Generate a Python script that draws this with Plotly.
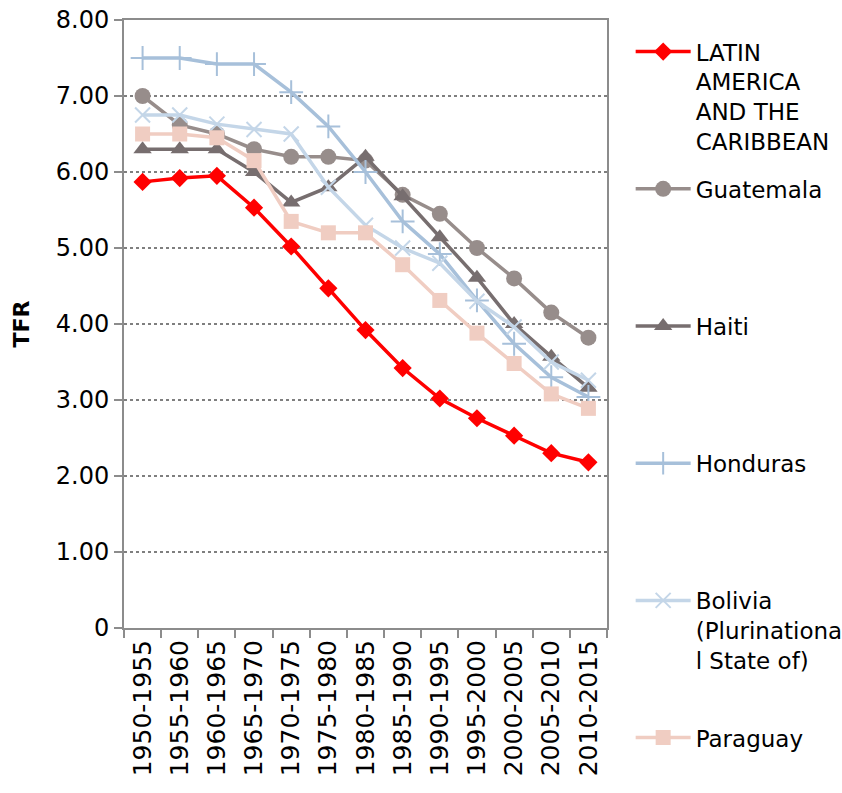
import plotly.graph_objects as go

# Five-year periods on the category axis
periods = ["1950-1955", "1955-1960", "1960-1965", "1965-1970", "1970-1975",
           "1975-1980", "1980-1985", "1985-1990", "1990-1995", "1995-2000",
           "2000-2005", "2005-2010", "2010-2015"]

# Total fertility rate by period
lac = [5.87, 5.92, 5.95, 5.53, 5.02, 4.47, 3.92, 3.42, 3.02, 2.76, 2.53, 2.30, 2.18]
guatemala = [7.00, 6.62, 6.50, 6.30, 6.20, 6.20, 6.15, 5.70, 5.45, 5.00, 4.60, 4.15, 3.82]
haiti = [6.30, 6.30, 6.30, 6.00, 5.60, 5.80, 6.20, 5.68, 5.14, 4.61, 4.00, 3.57, 3.16]
honduras = [7.50, 7.50, 7.42, 7.42, 7.05, 6.60, 6.00, 5.35, 4.92, 4.31, 3.74, 3.30, 3.04]
bolivia = [6.75, 6.75, 6.63, 6.56, 6.50, 5.80, 5.30, 5.00, 4.80, 4.30, 3.96, 3.50, 3.26]
paraguay = [6.50, 6.50, 6.45, 6.15, 5.35, 5.20, 5.20, 4.78, 4.31, 3.88, 3.48, 3.08, 2.89]

y_ticks = [0, 1, 2, 3, 4, 5, 6, 7, 8]
y_labels = ["0", "1.00", "2.00", "3.00", "4.00", "5.00", "6.00", "7.00", "8.00"]

FONT = "DejaVu Sans"
AXIS_GRAY = "#8c8c8c"


def pad(name, lines=4):
    # keep every legend entry the same height so entries are evenly spaced
    n = name.count("<br>") + 1
    return name + "<br> " * (lines - n)


series = [
    ("LATIN<br>AMERICA<br>AND THE<br>CARIBBEAN", lac, "#ff0000",
     dict(symbol="diamond", size=14, color="#ff0000")),
    ("Guatemala", guatemala, "#978d8b",
     dict(symbol="circle", size=16, color="#978d8b")),
    ("Haiti", haiti, "#776e6f",
     dict(symbol="triangle-up", size=16, color="#776e6f")),
    ("Honduras", honduras, "#a7c0da",
     dict(symbol="cross-thin-open", size=17, color="#a7c0da", line=dict(width=2, color="#a7c0da"))),
    ("Bolivia<br>(Plurinationa<br>l State of)", bolivia, "#c4d6e8",
     dict(symbol="x-thin-open", size=15, color="#c4d6e8", line=dict(width=2, color="#c4d6e8"))),
    ("Paraguay", paraguay, "#f0cdc2",
     dict(symbol="square", size=15, color="#f0cdc2")),
]

fig = go.Figure()
for i, (name, vals, color, marker) in enumerate(series):
    fig.add_trace(go.Scatter(
        x=periods, y=vals, name=pad(name), mode="lines+markers",
        line=dict(color=color, width=3.5), marker=marker,
        legendgroup=f"g{i}",
    ))

fig.update_layout(
    width=842, height=793,
    margin=dict(l=124, r=235, t=20, b=165, autoexpand=False),
    paper_bgcolor="white", plot_bgcolor="white",
    font=dict(family=FONT, size=23, color="#000000"),
    showlegend=True,
    legend=dict(
        x=1.049, xanchor="left", y=0.962, yanchor="top", yref="container",
        maxheight=1,
        font=dict(family=FONT, size=23, color="#000000"),
        tracegroupgap=14.6, valign="top", itemwidth=55,
        bgcolor="rgba(0,0,0,0)",
    ),
    xaxis=dict(
        type="category", tickangle=-90, tickson="boundaries",
        ticks="outside", ticklen=8, tickcolor=AXIS_GRAY, tickwidth=2,
        showline=True, linecolor=AXIS_GRAY, linewidth=2, mirror=True,
        showgrid=False, tickfont=dict(family=FONT, size=25, color="#000000"),
        range=[-0.5, 12.5], automargin=False,
    ),
    yaxis=dict(
        range=[0, 8], tickvals=y_ticks, ticktext=y_labels,
        ticks="outside", ticklen=8, tickcolor=AXIS_GRAY, tickwidth=2,
        showline=True, linecolor=AXIS_GRAY, linewidth=2, mirror=True,
        showgrid=True, gridcolor="#7f7f7f", griddash="dot", gridwidth=1.5,
        zeroline=False, automargin=False,
        tickfont=dict(family=FONT, size=24, color="#000000"),
        title=dict(text="<b>TFR</b>", font=dict(family=FONT, size=22, color="#000000"),
                   standoff=20),
    ),
)

fig.write_html("out.html")
